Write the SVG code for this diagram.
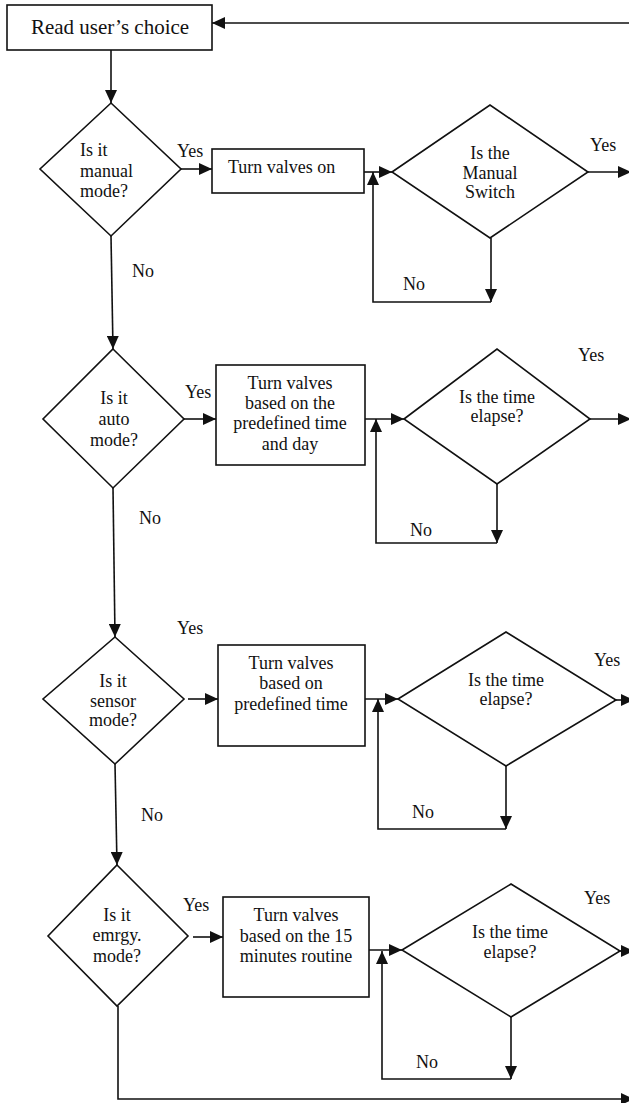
<svg xmlns="http://www.w3.org/2000/svg" width="629" height="1103" viewBox="0 0 629 1103">
<style>
.shape{fill:#fff;stroke:#111;stroke-width:1.6}
.conn{fill:none;stroke:#111;stroke-width:1.6}
text{font-family:"Liberation Serif","Times New Roman",serif;font-size:18px;fill:#111}
.c{text-anchor:middle}
.title{font-size:21px}
</style>
<defs>
<marker id="ah" markerWidth="13" markerHeight="12" refX="13" refY="6" orient="auto" markerUnits="userSpaceOnUse">
<path d="M0,0 L13,6 L0,12 z" fill="#111"/>
</marker>
</defs>
<rect width="629" height="1103" fill="#fff"/>
<g id="connectors">
<path class="conn" d="M640,23 H212" marker-end="url(#ah)"/>
<path class="conn" d="M111,50 V103" marker-end="url(#ah)"/>
<path class="conn" d="M181,169 H212" marker-end="url(#ah)"/>
<path class="conn" d="M364,172 H392" marker-end="url(#ah)"/>
<path class="conn" d="M588,172 H631" marker-end="url(#ah)"/>
<path class="conn" d="M491,238 V302" marker-end="url(#ah)"/>
<path class="conn" d="M491,302 H373 V172" marker-end="url(#ah)"/>
<path class="conn" d="M111,236 L113,349" marker-end="url(#ah)"/>
<path class="conn" d="M184,419 H216" marker-end="url(#ah)"/>
<path class="conn" d="M365,419 H404" marker-end="url(#ah)"/>
<path class="conn" d="M590,419 H631" marker-end="url(#ah)"/>
<path class="conn" d="M497,484 V543" marker-end="url(#ah)"/>
<path class="conn" d="M497,543 H376 V419" marker-end="url(#ah)"/>
<path class="conn" d="M113,488 L115,637" marker-end="url(#ah)"/>
<path class="conn" d="M188,699 H218" marker-end="url(#ah)"/>
<path class="conn" d="M365,699 H398" marker-end="url(#ah)"/>
<path class="conn" d="M616,700 H634" marker-end="url(#ah)"/>
<path class="conn" d="M506,766 V829" marker-end="url(#ah)"/>
<path class="conn" d="M506,829 H378 V699" marker-end="url(#ah)"/>
<path class="conn" d="M115,764 L117,865" marker-end="url(#ah)"/>
<path class="conn" d="M193,937 H223" marker-end="url(#ah)"/>
<path class="conn" d="M369,950 H402" marker-end="url(#ah)"/>
<path class="conn" d="M620,951 H634" marker-end="url(#ah)"/>
<path class="conn" d="M511,1017 V1079" marker-end="url(#ah)"/>
<path class="conn" d="M511,1079 H382 V951" marker-end="url(#ah)"/>
<path class="conn" d="M118,1006 V1099 H634" marker-end="url(#ah)"/>
<text x="177" y="157">Yes</text>
<text x="590" y="151">Yes</text>
<text x="132" y="277">No</text>
<text x="403" y="290">No</text>
<text x="185" y="398">Yes</text>
<text x="578" y="361">Yes</text>
<text x="139" y="524">No</text>
<text x="410" y="536">No</text>
<text x="177" y="634">Yes</text>
<text x="594" y="666">Yes</text>
<text x="141" y="821">No</text>
<text x="412" y="818">No</text>
<text x="183" y="911">Yes</text>
<text x="584" y="904">Yes</text>
<text x="416" y="1068">No</text>
</g>
<g id="start">
<rect class="shape" x="7" y="5" width="205" height="45"/>
<text class="title c" x="110" y="34">Read user’s choice</text>
</g>
<g id="manual-mode">
<polygon class="shape" points="111,103 181,169 111,236 40,169"/>
<text x="80" y="156">Is it</text>
<text x="80" y="177">manual</text>
<text x="80" y="197">mode?</text>
</g>
<g id="valves-on">
<rect class="shape" x="212" y="149" width="152" height="44"/>
<text x="228" y="173">Turn valves on</text>
</g>
<g id="manual-switch">
<polygon class="shape" points="392,172 490,105 588,172 490,238"/>
<text class="c" x="490" y="159">Is the</text>
<text class="c" x="490" y="179">Manual</text>
<text class="c" x="490" y="198">Switch</text>
</g>
<g id="auto-mode">
<polygon class="shape" points="113,349 184,419 113,488 43,419"/>
<text class="c" x="114" y="404">Is it</text>
<text class="c" x="114" y="425">auto</text>
<text class="c" x="114" y="446">mode?</text>
</g>
<g id="valves-time-day">
<rect class="shape" x="216" y="365" width="149" height="100"/>
<text class="c" x="290" y="389">Turn valves</text>
<text class="c" x="290" y="409">based on the</text>
<text class="c" x="290" y="429">predefined time</text>
<text class="c" x="290" y="450">and day</text>
</g>
<g id="time-elapse-auto">
<polygon class="shape" points="404,419 497,349 590,419 497,484"/>
<text class="c" x="497" y="403">Is the time</text>
<text class="c" x="497" y="422">elapse?</text>
</g>
<g id="sensor-mode">
<polygon class="shape" points="115,637 184,699 115,764 43,699"/>
<text class="c" x="113" y="687">Is it</text>
<text class="c" x="113" y="707">sensor</text>
<text class="c" x="113" y="726">mode?</text>
</g>
<g id="valves-predefined">
<rect class="shape" x="218" y="645" width="147" height="101"/>
<text class="c" x="291" y="669">Turn valves</text>
<text class="c" x="291" y="689">based on</text>
<text class="c" x="291" y="710">predefined time</text>
</g>
<g id="time-elapse-sensor">
<polygon class="shape" points="398,699 506,632 616,700 506,766"/>
<text class="c" x="506" y="686">Is the time</text>
<text class="c" x="506" y="705">elapse?</text>
</g>
<g id="emrgy-mode">
<polygon class="shape" points="117,865 188,936 117,1006 48,936"/>
<text class="c" x="117" y="921">Is it</text>
<text class="c" x="117" y="941">emrgy.</text>
<text class="c" x="117" y="962">mode?</text>
</g>
<g id="valves-15min">
<rect class="shape" x="223" y="897" width="146" height="100"/>
<text class="c" x="296" y="921">Turn valves</text>
<text class="c" x="296" y="942">based on the 15</text>
<text class="c" x="296" y="962">minutes routine</text>
</g>
<g id="time-elapse-emrgy">
<polygon class="shape" points="402,950 511,884 620,951 511,1017"/>
<text class="c" x="510" y="938">Is the time</text>
<text class="c" x="510" y="958">elapse?</text>
</g>
</svg>
